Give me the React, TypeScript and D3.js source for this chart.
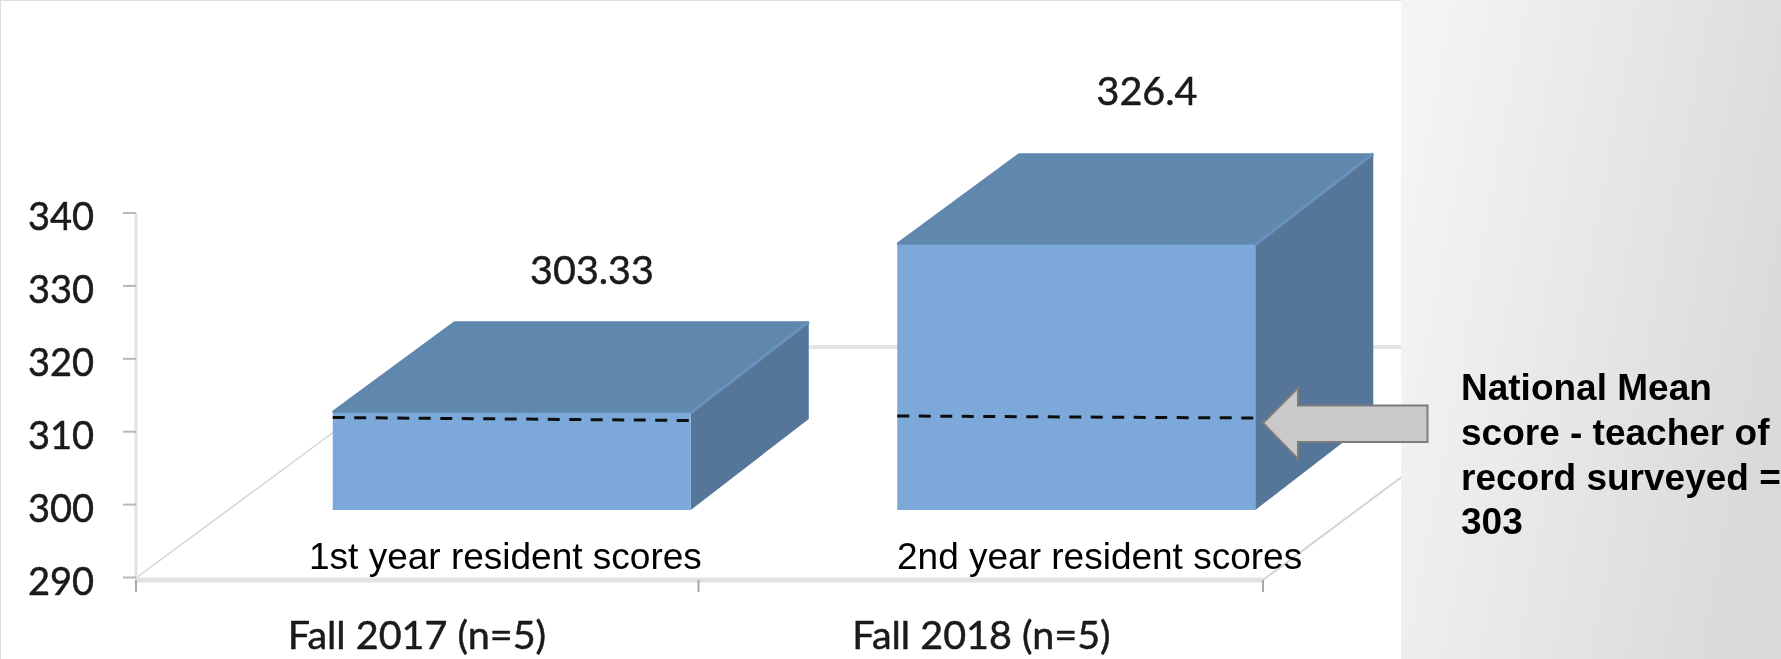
import { useMemo } from "react";
import * as d3 from "d3";

const years = ["Fall 2017 (n=5)", "Fall 2018 (n=5)"];
const scores = [303.33, 326.4];
const scoreLabels = ["303.33", "326.4"];
const seriesNames = ["1st year resident scores", "2nd year resident scores"];
const yTicks = [290, 300, 310, 320, 330, 340];
const noteLines = ["National Mean", "score - teacher of", "record surveyed =", "303"];
const noteBaselines = [400, 445, 490, 534];

const width = 1781;
const height = 659;
const panelX = 1401;
const axisLeft = 136;
const axisRight = 1263;
const axisY = 580;
// 3d projection of the chart floor
const depthX = 118;
const depthY = -91;
const floorY = 510;
const calibri = "Lato, 'Open Sans', sans-serif";
const arial = "'Liberation Sans', Arial, sans-serif";

export default function App() {
  const y = useMemo(() => d3.scaleLinear([290, 340], [577.5, 213]), []);
  const band = useMemo(() => d3.scaleBand(years, [axisLeft, axisRight + 2]), []);
  const boxWidth = 358;
  const unitPx = y(290) - y(291);
  const boxes = scores.map((score, i) => {
    const x0 = band(years[i])! + band.bandwidth() / 2 - 85.5;
    const x1 = x0 + boxWidth;
    const bottom = floorY;
    const top = bottom - (score - 290) * unitPx;
    return { x0, x1, top, bottom };
  });
  const poly = (pts: [number, number][]) => d3.line()(pts)! + "Z";
  const diagonalEnd = axisLeft + (axisY - 347) / 0.745;

  return (
    <svg
      width={width}
      height={height}
      viewBox={`0 0 ${width} ${height}`}
      style={{ position: "absolute", left: 0, top: 0, display: "block" }}
    >
      <defs>
        <linearGradient id="panel-bg" x1="0" y1="0.3" x2="1" y2="0.62">
          <stop offset="0" stopColor="#f4f4f4" />
          <stop offset="1" stopColor="#d9d9d9" />
        </linearGradient>
        <filter id="soft" x="-5%" y="-5%" width="110%" height="110%">
          <feGaussianBlur stdDeviation="0.7" />
        </filter>
      </defs>
      <rect width={width} height={height} fill="#fff" />
      <line x1={0} y1={0.5} x2={panelX} y2={0.5} stroke="#dcdcdc" />
      <line x1={0.5} y1={0} x2={0.5} y2={height} stroke="#dcdcdc" />

      <g filter="url(#soft)">
        {/* floor */}
        <line x1={axisLeft} y1={axisY - 2} x2={diagonalEnd} y2={347} stroke="#d4d4d4" strokeWidth={1.5} />
        <line x1={axisRight} y1={axisY} x2={panelX + 2} y2={476} stroke="#d4d4d4" strokeWidth={2} />
        <line x1={diagonalEnd} y1={347} x2={panelX} y2={347} stroke="#e4e4e4" strokeWidth={4} />
        <line x1={axisLeft} y1={axisY} x2={axisRight} y2={axisY} stroke="#e2e2e2" strokeWidth={5} />
        <line x1={axisLeft} y1={y(340)} x2={axisLeft} y2={axisY} stroke="#e2e2e2" strokeWidth={3} />
        {yTicks.map((t) => (
          <line key={t} x1={123} x2={axisLeft} y1={y(t)} y2={y(t)} stroke="#b8b8b8" strokeWidth={2} />
        ))}
        {[axisLeft, band(years[1])! - 2, axisRight].map((x) => (
          <line key={x} x1={x} x2={x} y1={axisY} y2={592} stroke="#a8a8a8" strokeWidth={2} />
        ))}

        {boxes.map((b, i) => (
          <g key={years[i]}>
            <path
              d={poly([
                [b.x0 + 1, b.top - 1],
                [b.x0 + depthX + 4, b.top + depthY + 1],
                [b.x1 + depthX - 1, b.top + depthY + 1],
                [b.x1, b.top],
              ])}
              fill="#6187ae"
              stroke="#6187ae"
              strokeWidth={3}
              strokeLinejoin="round"
            />
            <path
              d={poly([
                [b.x1, b.top],
                [b.x1 + depthX, b.top + depthY],
                [b.x1 + depthX, b.bottom + depthY],
                [b.x1, b.bottom],
              ])}
              fill="#547599"
            />
            <line
              x1={b.x1}
              y1={b.top}
              x2={b.x1 + depthX}
              y2={b.top + depthY}
              stroke="#6a92bc"
              strokeWidth={3}
            />
            <rect x={b.x0} y={b.top} width={boxWidth} height={b.bottom - b.top} fill="#7ba8da" />
            <line
              x1={b.x0}
              y1={i === 0 ? 417.5 : 416}
              x2={b.x1}
              y2={i === 0 ? 420.5 : 418}
              stroke="#111"
              strokeWidth={3}
              strokeDasharray="12 9.5"
            />
          </g>
        ))}

        {yTicks.map((t) => (
          <text
            key={t}
            x={94}
            y={y(t) + 17}
            fontFamily={calibri}
            fontSize={38}
            textAnchor="end"
            fill="#1a1a1a"
            stroke="#1a1a1a"
            strokeWidth={0.5}
          >
            {t}
          </text>
        ))}
        {years.map((year, i) => (
          <text
            key={year}
            x={i === 0 ? 417 : 981.5}
            y={649}
            fontFamily={calibri}
            fontSize={39.5}
            textAnchor="middle"
            fill="#1a1a1a"
            stroke="#1a1a1a"
            strokeWidth={0.5}
          >
            {year}
          </text>
        ))}
        {scoreLabels.map((label, i) => (
          <text
            key={label}
            x={i === 0 ? 592 : 1147}
            y={i === 0 ? 284 : 105}
            fontFamily={calibri}
            fontSize={39.5}
            textAnchor="middle"
            fill="#1a1a1a"
            stroke="#1a1a1a"
            strokeWidth={0.5}
          >
            {label}
          </text>
        ))}
        {seriesNames.map((name, i) => (
          <text key={name} x={i === 0 ? 309 : 897} y={569} fontFamily={arial} fontSize={37} fill="#000">
            {name}
          </text>
        ))}
      </g>

      <rect x={panelX} y={0} width={width - panelX} height={height} fill="url(#panel-bg)" />
      <g filter="url(#soft)">
        {/* arrow to the national mean */}
        <path
          d={poly([
            [1263, 423],
            [1298, 388],
            [1298, 405.5],
            [1427.5, 405.5],
            [1427.5, 442],
            [1298, 442],
            [1298, 459],
          ])}
          fill="#c9c9c9"
          stroke="#7c7c7c"
          strokeWidth={2}
        />
        {noteLines.map((line, i) => (
          <text
            key={line}
            x={1461}
            y={noteBaselines[i]}
            fontFamily={arial}
            fontWeight={700}
            fontSize={37}
            fill="#000"
          >
            {line}
          </text>
        ))}
      </g>
    </svg>
  );
}
